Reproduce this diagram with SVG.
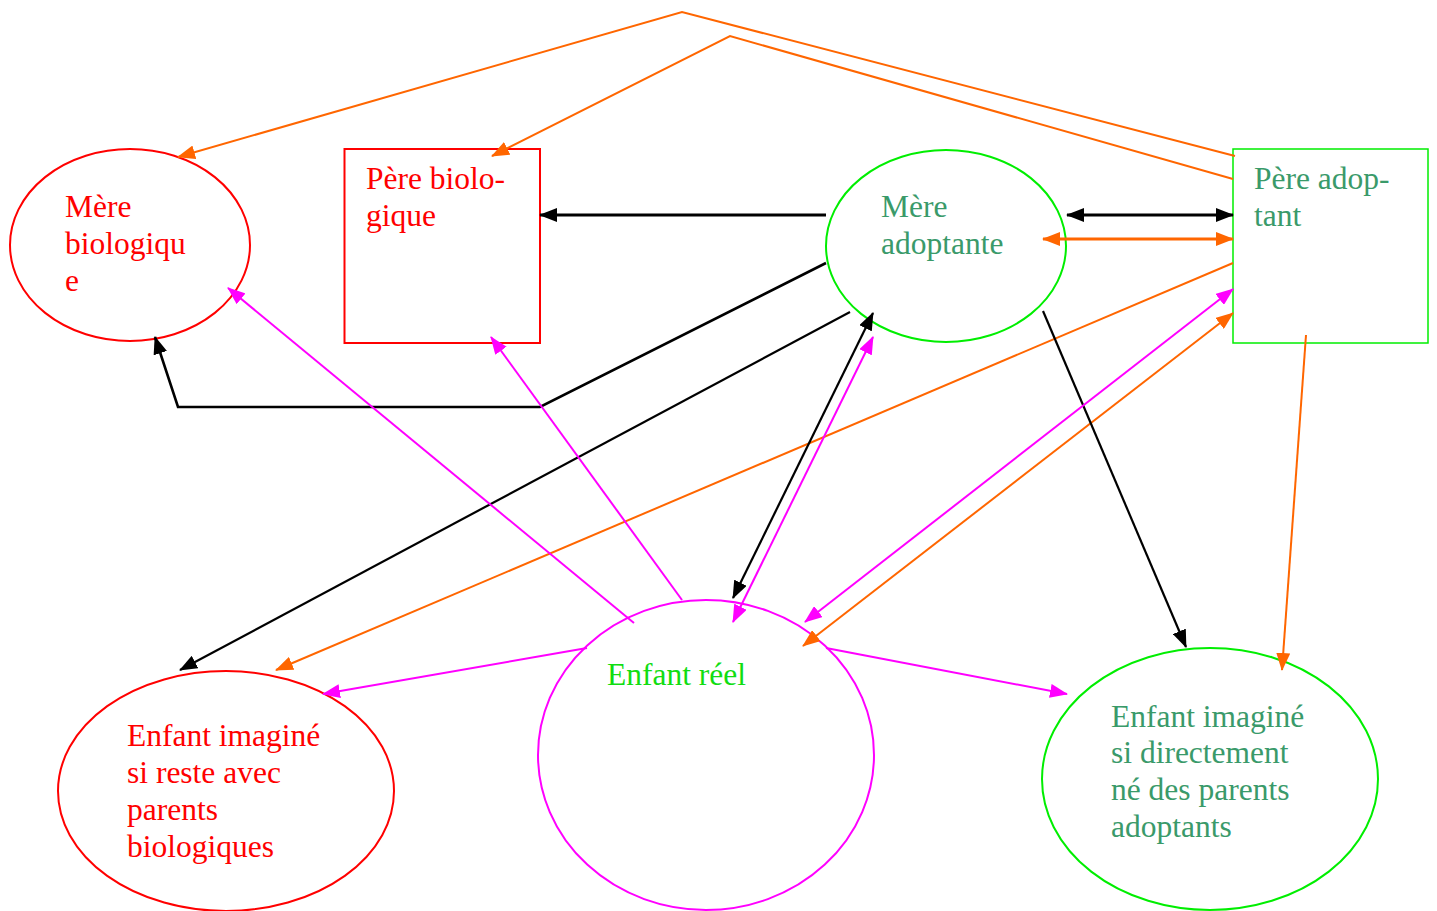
<svg xmlns="http://www.w3.org/2000/svg" width="1437" height="911" viewBox="0 0 1437 911">
<defs>
<marker id="aK" viewBox="0 0 18 14" refX="17" refY="7" markerWidth="18" markerHeight="14" markerUnits="userSpaceOnUse" orient="auto-start-reverse"><path d="M0,0 L18,7 L0,14 Z" fill="#000"/></marker>
<marker id="aO" viewBox="0 0 18 14" refX="17" refY="7" markerWidth="18" markerHeight="14" markerUnits="userSpaceOnUse" orient="auto-start-reverse"><path d="M0,0 L18,7 L0,14 Z" fill="#ff6600"/></marker>
<marker id="aM" viewBox="0 0 18 14" refX="17" refY="7" markerWidth="18" markerHeight="14" markerUnits="userSpaceOnUse" orient="auto-start-reverse"><path d="M0,0 L18,7 L0,14 Z" fill="#ff00ff"/></marker>
<style>
.red{fill:none;stroke:#ff0000;stroke-width:2}
.grn{fill:none;stroke:#00ee00;stroke-width:2}
.mag{fill:none;stroke:#ff00ff;stroke-width:2}
text{font-family:"Liberation Serif","Times New Roman",serif;font-size:31.5px}
.tr{fill:#ff0000}
.tg{fill:#3a9a6a}
.tl{fill:#11dd11}
.k{fill:none;stroke:#000;stroke-width:2.2}
.o{fill:none;stroke:#ff6600;stroke-width:2}
.m{fill:none;stroke:#ff00ff;stroke-width:2}
</style>
</defs>
<g id="mere-bio">
<ellipse class="red" cx="130" cy="245" rx="120" ry="96"/>
<text class="tr" x="65" y="217">Mère</text>
<text class="tr" x="65" y="254">biologiqu</text>
<text class="tr" x="65" y="291">e</text>
</g>
<g id="pere-bio">
<rect class="red" x="344.5" y="149" width="195.5" height="194"/>
<text class="tr" x="366" y="189">Père biolo-</text>
<text class="tr" x="366" y="226">gique</text>
</g>
<g id="mere-adopt">
<ellipse class="grn" cx="946" cy="246" rx="120" ry="96"/>
<text class="tg" x="881" y="217">Mère</text>
<text class="tg" x="881" y="254">adoptante</text>
</g>
<g id="pere-adopt">
<rect class="grn" x="1233" y="149" width="195" height="194" style="stroke-width:1.5"/>
<text class="tg" x="1254" y="189">Père adop-</text>
<text class="tg" x="1254" y="226">tant</text>
</g>
<g id="enfant-bio">
<ellipse class="red" cx="226" cy="791" rx="168" ry="120"/>
<text class="tr" x="127" y="746">Enfant imaginé</text>
<text class="tr" x="127" y="783">si reste avec</text>
<text class="tr" x="127" y="820">parents</text>
<text class="tr" x="127" y="857">biologiques</text>
</g>
<g id="enfant-reel">
<ellipse class="mag" cx="706" cy="755" rx="168" ry="155"/>
<text class="tl" x="607" y="685">Enfant réel</text>
</g>
<g id="enfant-adopt">
<ellipse class="grn" cx="1210" cy="779" rx="168" ry="131"/>
<text class="tg" x="1111" y="727">Enfant imaginé</text>
<text class="tg" x="1111" y="763">si directement</text>
<text class="tg" x="1111" y="800">né des parents</text>
<text class="tg" x="1111" y="837">adoptants</text>
</g>
<g id="connectors">
<polyline class="o" points="1235,156 682,12 178,157" marker-end="url(#aO)"/>
<polyline class="o" points="1233,179 730,36 492,156" marker-end="url(#aO)"/>
<line class="o" x1="1043" y1="239" x2="1233" y2="239" marker-start="url(#aO)" marker-end="url(#aO)" style="stroke-width:3"/>
<line class="o" x1="1233" y1="263" x2="276" y2="670" marker-end="url(#aO)"/>
<line class="o" x1="803" y1="646" x2="1233" y2="313" marker-start="url(#aO)" marker-end="url(#aO)"/>
<line class="o" x1="1306" y1="335" x2="1282" y2="670" marker-end="url(#aO)"/>
<line class="k" x1="826" y1="215" x2="540" y2="215" marker-end="url(#aK)" style="stroke-width:3"/>
<line class="k" x1="1067" y1="215" x2="1233" y2="215" marker-start="url(#aK)" marker-end="url(#aK)" style="stroke-width:3"/>
<polyline class="k" points="826,263 540,407 178,407 155,337" marker-end="url(#aK)" style="stroke-width:2.6"/>
<line class="k" x1="850" y1="312" x2="180" y2="670" marker-end="url(#aK)"/>
<line class="k" x1="873" y1="313" x2="733" y2="598" marker-start="url(#aK)" marker-end="url(#aK)"/>
<line class="k" x1="1043" y1="311" x2="1186" y2="647" marker-end="url(#aK)"/>
<line class="m" x1="634" y1="623" x2="228" y2="288" marker-end="url(#aM)"/>
<line class="m" x1="682" y1="600" x2="491" y2="337" marker-end="url(#aM)"/>
<line class="m" x1="873" y1="337" x2="733" y2="622" marker-start="url(#aM)" marker-end="url(#aM)"/>
<line class="m" x1="1233" y1="289" x2="805" y2="622" marker-start="url(#aM)" marker-end="url(#aM)"/>
<line class="m" x1="587" y1="648" x2="323" y2="694" marker-end="url(#aM)"/>
<line class="m" x1="826" y1="648" x2="1067" y2="694" marker-end="url(#aM)"/>
</g>
</svg>
